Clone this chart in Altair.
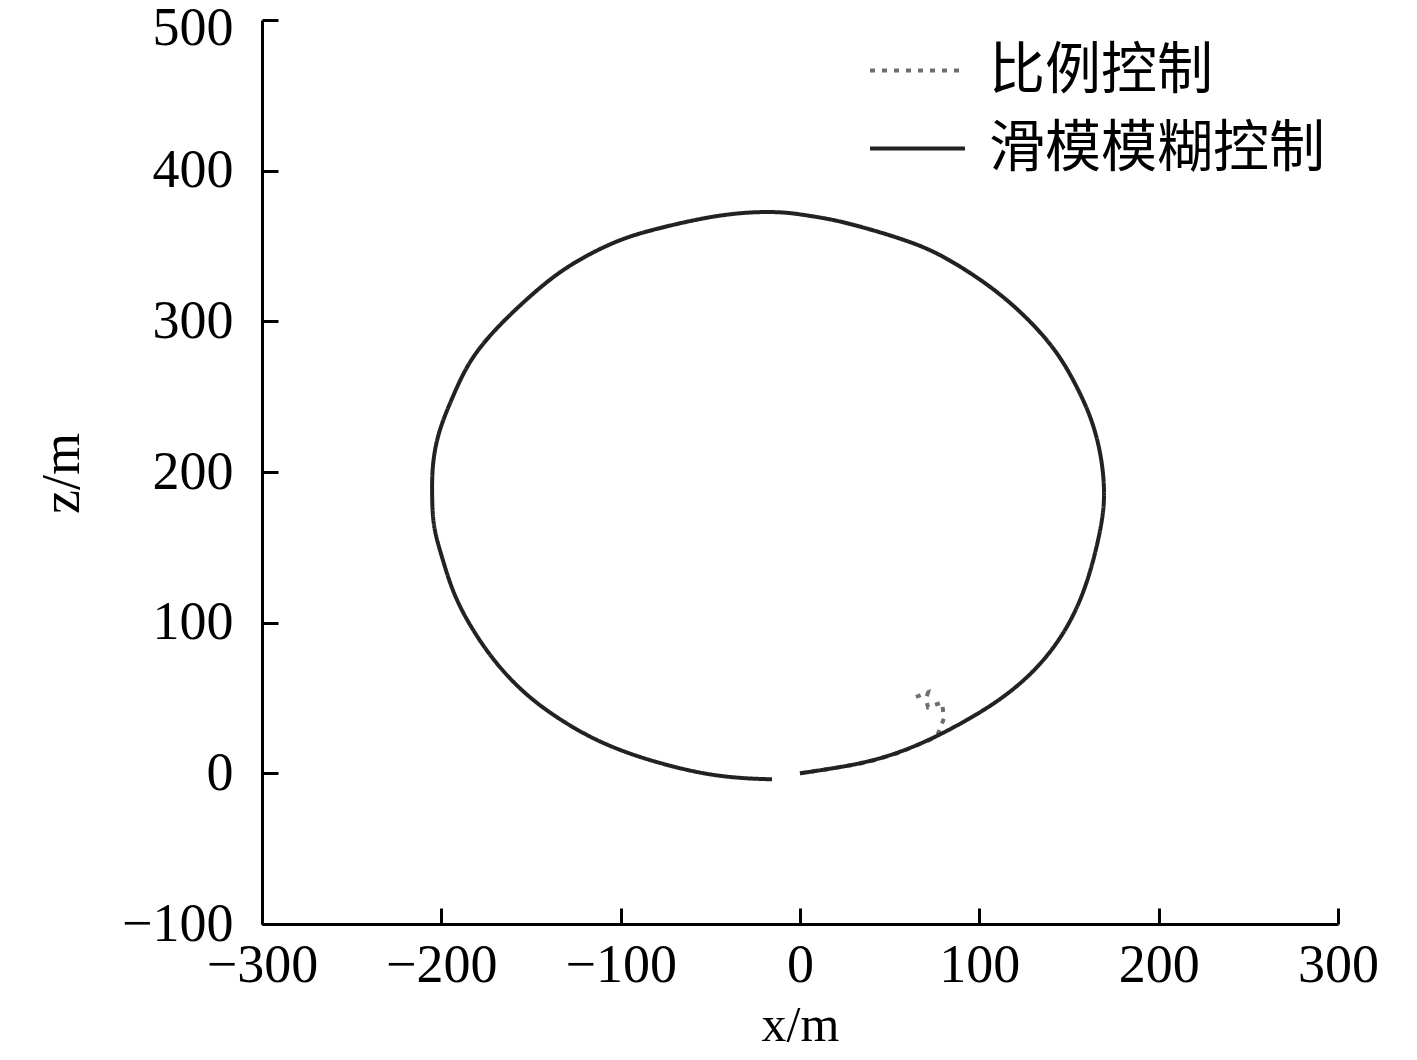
import altair as alt
import pandas as pd

# Sliding-mode fuzzy control trajectory (x, z in m)
smc_x = [0.0, 18.4, 37.4, 55.8, 74.2, 93.1, 111.5, 129.9, 145.0, 156.1, 163.4, 168.4, 170.1,
         168.4, 163.4, 156.1, 145.0, 129.9, 111.5, 93.1, 74.2, 55.8, 37.4, 18.4, 0.0,
         -8.4, -23.4, -41.8, -60.2, -79.2, -97.6, -116.0, -135.0, -153.4, -171.8, -185.1,
         -194.1, -201.9, -205.2, -205.2,
         -204.6, -199.6, -194.1, -185.1, -170.1, -151.7, -131.0, -108.7, -79.2, -45.7, -15.6]
smc_z = [0.0, 3.3, 7.3, 13.9, 23.2, 35.2, 48.5, 66.4, 88.3, 112.8, 139.4, 165.9, 184.5,
         209.1, 233.0, 252.9, 277.4, 298.7, 318.6, 333.8, 347.1, 355.1, 361.7, 367.7, 371.0,
         372.4, 372.8, 371.0, 367.0, 361.7, 355.7, 345.8, 332.5, 313.9, 292.7, 272.8,
         248.9, 226.3, 204.4, 182.5,
         163.3, 143.4, 121.5, 99.6, 73.0, 50.4, 33.2, 18.6, 6.6, -2.7, -4.0]

# Proportional control trajectory
p_x = [0.0, 18.4, 37.4, 55.8, 74.2, 77.0, 80.3, 79.2, 71.4, 70.3, 71.4, 64.1]
p_z = [0.0, 3.3, 7.3, 13.9, 23.2, 26.5, 36.5, 47.1, 43.8, 49.1, 53.8, 50.4]

series_names = ["比例控制", "滑模模糊控制"]
series_colors = ["#6e6e6e", "#222222"]
series_dash = [[5, 7], [1, 0]]
x_ticks = [-300, -200, -100, 0, 100, 200, 300]
z_ticks = [-100, 0, 100, 200, 300, 400, 500]

df_smc = pd.DataFrame({"x": smc_x, "z": smc_z, "i": list(range(len(smc_x))), "series": series_names[1]})
df_p = pd.DataFrame({"x": p_x, "z": p_z, "i": list(range(len(p_x))), "series": series_names[0]})

SERIF = "Liberation Serif"

x_enc = alt.X("x:Q", scale=alt.Scale(domain=[-300, 300], nice=False, zero=False),
              axis=alt.Axis(values=x_ticks, title="x/m", grid=False,
                            domainWidth=3, domainColor="black",
                            tickWidth=3, tickColor="black", tickSize=alt.ExprRef(expr="-16"),
                            labelFont=SERIF, labelFontSize=54, labelColor="black",
                            labelPadding=30, labelFlush=False, labelOverlap=False, labelBound=False,
                            titleFont=SERIF, titleFontSize=50, titleFontWeight="normal",
                            titleColor="black", titleX=538, titleY=101,
                            titleBaseline="middle", titleAlign="center"))
y_enc = alt.Y("z:Q", scale=alt.Scale(domain=[-100, 500], nice=False, zero=False),
              axis=alt.Axis(values=z_ticks, title="z/m", grid=False,
                            domainWidth=3, domainColor="black",
                            tickWidth=3, tickColor="black", tickSize=alt.ExprRef(expr="-16"),
                            labelFont=SERIF, labelFontSize=54, labelColor="black",
                            labelPadding=45, labelFlush=False, labelOverlap=False, labelBound=False,
                            labelOffset={"condition": {"test": "datum.value == 500", "value": 8}, "value": 0},
                            titleFont=SERIF, titleFontSize=54, titleFontWeight="normal",
                            titleColor="black", titleX=-200, titleY=453, titleAngle=270,
                            titleBaseline="middle", titleAlign="center"))

legend = alt.Legend(title=None, orient="none", legendX=606, legendY=1,
                    symbolType="stroke", symbolSize=9025, symbolStrokeWidth=4,
                    labelFont="Noto Sans CJK SC", labelFontSize=56, labelColor="black",
                    labelOffset=22, rowPadding=alt.ExprRef(expr="-20"), padding=0, labelLimit=600)

color_enc = alt.Color("series:N", scale=alt.Scale(domain=series_names, range=series_colors), legend=legend)
dash_enc = alt.StrokeDash("series:N", scale=alt.Scale(domain=series_names, range=series_dash), legend=legend)

p_line = alt.Chart(df_p).mark_line(strokeWidth=4, interpolate="linear").encode(
    x=x_enc, y=y_enc, order="i:Q", color=color_enc, strokeDash=dash_enc)
smc_line = alt.Chart(df_smc).mark_line(strokeWidth=4, interpolate="basis").encode(
    x=x_enc, y=y_enc, order="i:Q", color=color_enc, strokeDash=dash_enc)

chart = alt.layer(p_line, smc_line).properties(
    width=1076, height=904,
    autosize=alt.AutoSizeParams(type="none"),
    padding={"left": 254, "top": 12, "right": 71, "bottom": 128},
    view=alt.ViewBackground(stroke=None, strokeWidth=0),
).configure_view(strokeWidth=0, stroke=None).configure(background="white")

chart.save("out.html", embed_options={"renderer": "svg", "actions": False})
